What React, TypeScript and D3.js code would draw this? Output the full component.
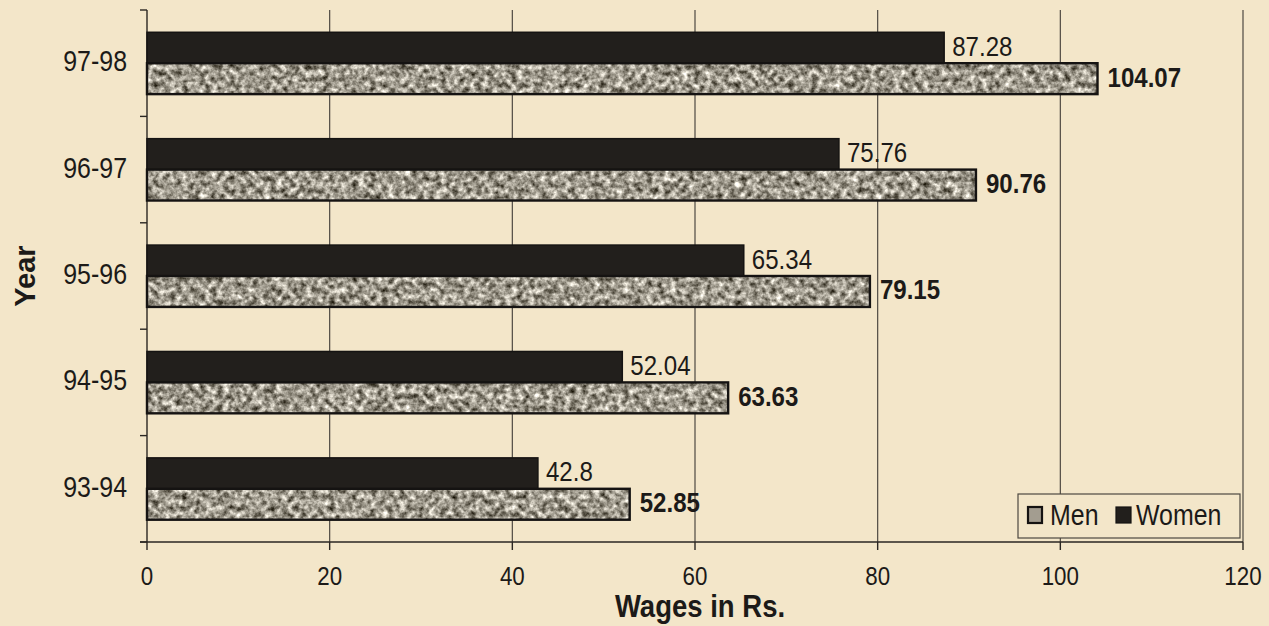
import React from "react";
import * as d3 from "d3";

const years = ["97-98", "96-97", "95-96", "94-95", "93-94"];
const women = [87.28, 75.76, 65.34, 52.04, 42.8];
const men = [104.07, 90.76, 79.15, 63.63, 52.85];
const xTicks = [0, 20, 40, 60, 80, 100, 120];
const seriesNames = ["Women", "Men"];

const W = 1269;
const H = 626;
const left = 147;
const right = 1243;
const top = 10;
const bottom = 542;
const font = "'Liberation Sans', Arial, sans-serif";
const bg = "#f3e6c9";
const ink = "#1c1a18";
// the scan is a bit squeezed sideways, so text gets narrowed
const SX = 0.86;

type TProps = {
  x: number;
  y: number;
  size: number;
  anchor?: "start" | "middle" | "end";
  bold?: boolean;
  children: React.ReactNode;
};

function T({ x, y, size, anchor = "start", bold = false, children }: TProps) {
  return (
    <text
      transform={`translate(${x},${y}) scale(${SX},1)`}
      textAnchor={anchor}
      fontFamily={font}
      fontSize={size}
      fontWeight={bold ? "bold" : "normal"}
      fill={ink}
    >
      {children}
    </text>
  );
}

export default function App() {
  const x = d3.scaleLinear().domain([0, 120]).range([left, right]);
  const y = d3.scaleBand().domain(years).range([top, bottom]);
  const inner = d3
    .scaleBand()
    .domain(seriesNames)
    .range([0, y.bandwidth()])
    .paddingInner(0)
    .paddingOuter(0.72);

  return (
    <svg
      width={W}
      height={H}
      style={{ position: "absolute", left: 0, top: 0, background: bg }}
    >
      <defs>
        <filter id="speckle" x="0" y="0" width="100%" height="100%" colorInterpolationFilters="sRGB">
          <feTurbulence type="fractalNoise" baseFrequency="0.17" numOctaves={3} seed={7} result="noise" />
          <feColorMatrix
            in="noise"
            type="matrix"
            values="1.3 0 0 0 -0.03  1.3 0 0 0 -0.05  1.3 0 0 0 -0.1  0 0 0 0 1"
            result="tex"
          />
          <feComposite in="tex" in2="SourceGraphic" operator="in" />
        </filter>
      </defs>

      {/* gridlines */}
      {xTicks.slice(1).map((t) => (
        <line key={"g" + t} x1={x(t)} x2={x(t)} y1={top} y2={bottom} stroke="#4e4942" strokeWidth={1.2} />
      ))}

      {/* y axis */}
      <line x1={left} x2={left} y1={top} y2={bottom} stroke="#2a2622" strokeWidth={1.4} />
      {[...years.map((yr) => y(yr)!), bottom].map((v, i) => (
        <line key={"yt" + i} x1={left - 7} x2={left} y1={v} y2={v} stroke="#2a2622" strokeWidth={1.4} />
      ))}
      {/* x axis */}
      <line x1={left - 7} x2={right} y1={bottom} y2={bottom} stroke="#2a2622" strokeWidth={1.4} />
      {xTicks.map((t) => (
        <g key={"xt" + t}>
          <line x1={x(t)} x2={x(t)} y1={bottom} y2={bottom + 8} stroke="#2a2622" strokeWidth={1.4} />
          <T x={x(t)} y={585} size={26} anchor="middle">
            {t}
          </T>
        </g>
      ))}

      {years.map((yr, i) => {
        const y0 = y(yr)!;
        const wy = y0 + inner("Women")!;
        const my = y0 + inner("Men")!;
        const bh = inner.bandwidth();
        return (
          <g key={yr}>
            <T x={127} y={y0 + y.bandwidth() / 2 + 8} size={29} anchor="end">
              {yr}
            </T>
            <rect x={x(0)} y={wy} width={x(women[i]) - x(0)} height={bh} fill="#221f1c" stroke="#151312" strokeWidth={1.5} />
            <rect x={x(0)} y={my} width={x(men[i]) - x(0)} height={bh} fill="#fff" filter="url(#speckle)" />
            <rect x={x(0)} y={my} width={x(men[i]) - x(0)} height={bh} fill="none" stroke="#151312" strokeWidth={2.4} />
            <T x={x(women[i]) + 8} y={wy + bh / 2 + 8} size={28}>
              {women[i]}
            </T>
            <T x={x(men[i]) + 10} y={my + bh / 2 + 8} size={28} bold>
              {men[i].toFixed(2)}
            </T>
          </g>
        );
      })}

      {/* legend */}
      <g>
        <rect x={1018} y={494} width={222} height={44} fill={bg} stroke="#4e4942" strokeWidth={1.2} />
        <rect x={1028} y={507} width={14} height={16} fill="#a39d90" stroke="#151312" strokeWidth={2.2} />
        <T x={1050} y={525} size={29}>
          Men
        </T>
        <rect x={1116} y={507} width={15} height={16} fill="#221f1c" stroke="#151312" strokeWidth={1.2} />
        <T x={1136} y={525} size={29}>
          Women
        </T>
      </g>

      {/* axis titles */}
      <T x={700} y={617} size={32} anchor="middle" bold>
        Wages in Rs.
      </T>
      <text
        transform={`translate(35, ${(top + bottom) / 2}) rotate(-90)`}
        textAnchor="middle"
        fontFamily={font}
        fontSize={29}
        fontWeight="bold"
        fill={ink}
      >
        Year
      </text>
    </svg>
  );
}
